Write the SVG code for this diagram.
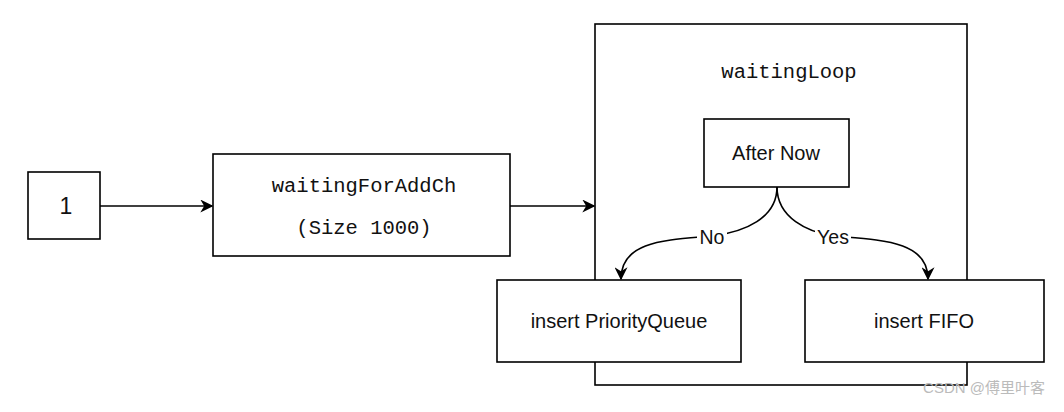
<svg xmlns="http://www.w3.org/2000/svg" width="1064" height="412" viewBox="0 0 1064 412">
<style>
.box{fill:#fff;stroke:#000;stroke-width:1.6}
.sans{font-family:"Liberation Sans",Arial,sans-serif;font-size:20px;fill:#111;text-anchor:middle;dominant-baseline:central}
.mono{font-family:"Liberation Mono","Courier New",monospace;font-size:20.5px;fill:#111;text-anchor:middle;dominant-baseline:central}
.edge{fill:none;stroke:#000;stroke-width:1.6}
.lbl{font-family:"Liberation Sans",Arial,sans-serif;font-size:19.5px;fill:#111;text-anchor:middle;dominant-baseline:central}
</style>
<defs>
<marker id="arr" viewBox="0 0 10 10" refX="9" refY="5" markerWidth="13" markerHeight="13" markerUnits="userSpaceOnUse" orient="auto">
<path d="M0,0 L10,5 L0,10 L3,5 z" fill="#000"/>
</marker>
</defs>
<rect width="1064" height="412" fill="#fff"/>
<g id="waitingLoop">
<rect class="box" x="595" y="24" width="372" height="361"/>
<text class="mono" x="789" y="72">waitingLoop</text>
</g>
<g id="node-1">
<rect class="box" x="28" y="172" width="72" height="67"/>
<text class="sans" x="66" y="206" style="font-size:23px">1</text>
</g>
<g id="waitingForAddCh">
<rect class="box" x="213" y="154" width="297" height="102"/>
<text class="mono" x="364" y="186">waitingForAddCh</text>
<text class="mono" x="364" y="228">(Size 1000)</text>
</g>
<g id="afterNow">
<rect class="box" x="704" y="119" width="145" height="68"/>
<text class="sans" x="776" y="153">After Now</text>
</g>
<g id="insertPQ">
<rect class="box" x="497" y="280" width="244" height="82"/>
<text class="sans" x="619" y="321">insert PriorityQueue</text>
</g>
<g id="insertFIFO">
<rect class="box" x="805" y="280" width="239" height="82"/>
<text class="sans" x="924" y="321">insert FIFO</text>
</g>
<g id="connectors">
<path class="edge" d="M100,206 H212" marker-end="url(#arr)"/>
<path class="edge" d="M510,206 H594" marker-end="url(#arr)"/>
<path class="edge" d="M777,187 C777,218 745,232 712,236 C668,240 621,240 621,279" marker-end="url(#arr)"/>
<path class="edge" d="M777,187 C777,218 808,232 833,236 C880,240 928,240 928,279" marker-end="url(#arr)"/>
<rect x="697" y="226" width="30" height="22" fill="#fff"/>
<text class="lbl" x="712" y="237">No</text>
<rect x="815" y="226" width="36" height="22" fill="#fff"/>
<text class="lbl" x="833" y="237">Yes</text>
</g>
<text x="1045" y="393" font-family="'Liberation Sans','Noto Sans CJK SC',sans-serif" font-size="15" fill="#bbb" text-anchor="end">CSDN @傅里叶客</text>
</svg>
